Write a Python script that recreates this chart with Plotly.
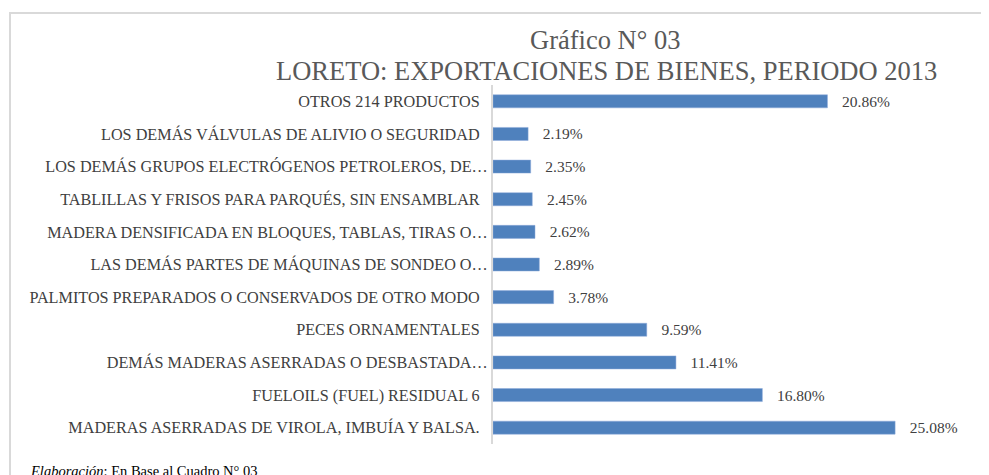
import plotly.graph_objects as go

categories = [
    "MADERAS ASERRADAS DE VIROLA, IMBUÍA Y BALSA.",
    "FUELOILS (FUEL) RESIDUAL 6",
    "DEMÁS MADERAS ASERRADAS O DESBASTADA…",
    "PECES ORNAMENTALES",
    "PALMITOS PREPARADOS O CONSERVADOS DE OTRO MODO",
    "LAS DEMÁS PARTES DE MÁQUINAS DE SONDEO O…",
    "MADERA DENSIFICADA EN BLOQUES, TABLAS, TIRAS O…",
    "TABLILLAS Y FRISOS PARA PARQUÉS, SIN ENSAMBLAR",
    "LOS DEMÁS GRUPOS ELECTRÓGENOS PETROLEROS, DE…",
    "LOS DEMÁS VÁLVULAS DE ALIVIO O SEGURIDAD",
    "OTROS 214 PRODUCTOS",
]
values = [25.08, 16.80, 11.41, 9.59, 3.78, 2.89, 2.62, 2.45, 2.35, 2.19, 20.86]
value_labels = ["25.08%", "16.80%", "11.41%", "9.59%", "3.78%", "2.89%",
                "2.62%", "2.45%", "2.35%", "2.19%", "20.86%"]

# page body has an 8px margin; figure sized to fit the window inside it
OFF = 8
W, H = 989 - OFF, 475 - OFF
L, T = 493 - OFF, 85 - OFF
R = W - (974 - OFF)
B = H - (444 - OFF)
pw, ph = W - L - R, H - T - B

def px_x(x):
    return (x - OFF - L) / pw

def px_y(y):
    return (H - B - (y - OFF)) / ph

SERIF = "Liberation Serif, Times New Roman, serif"
tick_text = [c if c.endswith("…") else c + "\u00a0\u00a0" for c in categories]

fig = go.Figure(go.Bar(
    x=values,
    y=categories,
    orientation="h",
    marker=dict(color="#4f81bd", line=dict(color="#8eaadb", width=0.5)),
    text=["\u00a0\u00a0\u00a0" + t for t in value_labels],
    textposition="outside",
    constraintext="none",
    cliponaxis=False,
    textfont=dict(family=SERIF, size=15.5, color="#404040"),
    hoverinfo="skip",
))

fig.update_layout(
    width=W, height=H,
    margin=dict(l=L, r=R, t=T, b=B),
    paper_bgcolor="white", plot_bgcolor="white",
    bargap=0.6,
    showlegend=False,
    font=dict(family=SERIF, color="#404040"),
    xaxis=dict(range=[0, 30], visible=False, fixedrange=True),
    yaxis=dict(
        categoryorder="array", categoryarray=categories,
        tickmode="array", tickvals=categories, ticktext=tick_text,
        showline=True, linecolor="#d9d9d9", linewidth=2,
        ticks="", showgrid=False, ticklabelstandoff=0,
        tickfont=dict(family=SERIF, size=16.2, color="#404040"),
    ),
    shapes=[
        dict(type="rect", xref="paper", yref="paper",
             x0=px_x(10), x1=px_x(1000), y0=px_y(490), y1=px_y(13),
             line=dict(color="#d9d9d9", width=2), fillcolor="rgba(0,0,0,0)", layer="below"),
    ],
    annotations=[
        dict(text="Gráfico N° 03", xref="paper", yref="paper",
             x=px_x(605), y=px_y(40), xanchor="center", yanchor="middle", showarrow=False,
             font=dict(family=SERIF, size=26.5, color="#595959")),
        dict(text="LORETO: EXPORTACIONES DE BIENES, PERIODO 2013", xref="paper", yref="paper",
             x=px_x(606), y=px_y(71), xanchor="center", yanchor="middle", showarrow=False,
             font=dict(family=SERIF, size=26.5, color="#595959")),
        dict(text="<i>Elaboración</i>: En Base al Cuadro N° 03", xref="paper", yref="paper",
             x=px_x(28), y=px_y(471), xanchor="left", yanchor="middle", showarrow=False,
             font=dict(family=SERIF, size=14.5, color="#000000")),
    ],
)

fig.write_html("out.html")
